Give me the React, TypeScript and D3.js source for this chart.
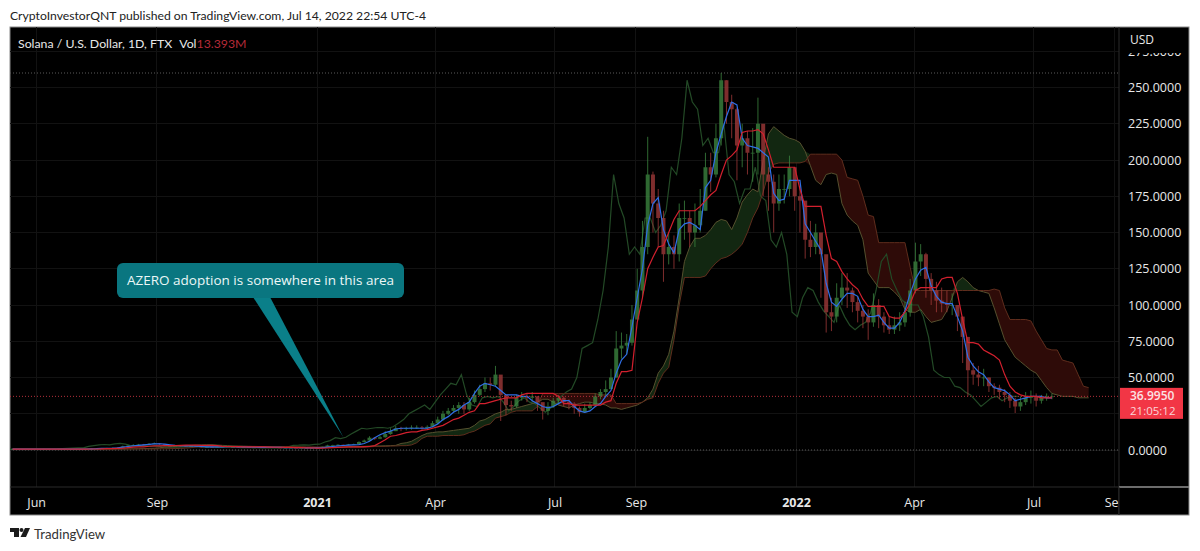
import React, { useRef, useEffect } from 'react';
import * as d3 from 'd3';

// bars are sampled every 4 days, starting here
const barStart = new Date(Date.UTC(2020, 4, 14));
const barStepDays = 4;
const chikouLagDays = 26;

const closes = [
  0.6, 0.6, 0.6, 0.6, 0.6, 0.6, 0.7, 0.7, 0.7, 0.7,
  0.6, 0.6, 0.6, 0.7, 0.7, 0.8, 1, 1.2, 1.3, 1.4,
  1.5, 2.5, 3, 3.5, 3.8, 3.6, 4.2, 4.6, 4, 3,
  2.9, 3, 2.9, 2.6, 2.7, 2.3, 2, 2.2, 2, 2.3,
  2.4, 2.2, 2.2, 2, 2, 1.8, 1.8, 1.9, 1.9, 2,
  1.7, 1.6, 1.6, 1.6, 1.5, 1.5, 1.5, 1.5, 1.6, 2.2,
  3.2, 3.3, 3.6, 3.4, 3.9, 4, 5.5, 6.5, 8.5, 7.8,
  8.8, 11, 13, 15, 14.5, 15, 15.5, 15.5, 15, 16,
  18.5, 21, 25, 27, 29, 31, 28, 33, 38, 42,
  46, 45, 52, 38, 31, 30, 36, 37, 36, 37,
  33, 27, 30, 34, 36, 33, 32, 29, 26, 29,
  31, 37, 40, 42, 50, 70, 72, 74, 90, 110,
  140, 190, 170, 160, 135, 140, 135, 160, 160, 150,
  155, 165, 195, 190, 215, 255, 240, 235, 210, 215,
  205, 205, 225, 190, 185, 170, 180, 180, 195, 175,
  172, 145, 140, 150, 135, 95, 92, 105, 112, 110,
  102, 96, 92, 88, 100, 92, 86, 83, 86, 88,
  95, 110, 130, 135, 118, 110, 103, 101, 100, 100,
  92, 78, 55, 52, 50, 50, 44, 43, 40, 38,
  34, 30, 33, 36, 37, 34, 36, 37, 37,
];

const highs = [
  0.7, 0.7, 0.7, 0.7, 0.7, 0.7, 0.8, 0.8, 0.8, 0.8,
  0.7, 0.7, 0.7, 0.8, 0.8, 1, 1.2, 1.4, 1.5, 1.6,
  1.8, 3, 3.6, 4, 4.2, 4.2, 4.8, 5.2, 4.8, 3.8,
  3.3, 3.3, 3.2, 3, 3, 2.8, 2.5, 2.5, 2.4, 2.6,
  2.7, 2.5, 2.5, 2.3, 2.3, 2.1, 2, 2.1, 2.1, 2.2,
  2, 1.8, 1.8, 1.8, 1.7, 1.7, 1.7, 1.7, 1.8, 2.5,
  3.6, 3.6, 4, 3.8, 4.2, 4.4, 6, 7.2, 9.5, 8.8,
  10, 13, 15, 16.5, 16, 16, 17, 17, 16.5, 17,
  20, 23, 27, 29, 31, 33, 33, 36, 41, 45,
  50, 50, 58, 50, 35, 34, 38, 40, 39, 40,
  37, 32, 33, 36, 38, 37, 35, 33, 30, 32,
  33, 39, 42, 48, 56, 82, 81, 80, 100, 125,
  158, 216, 192, 180, 165, 150, 148, 170, 172, 165,
  170, 180, 205, 205, 225, 260, 255, 245, 236, 225,
  220, 222, 243, 215, 195, 190, 190, 190, 203, 195,
  182, 170, 158, 156, 146, 110, 105, 115, 122, 122,
  112, 106, 100, 97, 108, 104, 95, 92, 92, 95,
  102, 118, 143, 142, 136, 122, 116, 112, 110, 108,
  100, 92, 72, 60, 58, 56, 50, 46, 45, 42,
  40, 36, 37, 40, 41, 39, 38, 39, 39,
];

const lows = [
  0.5, 0.5, 0.5, 0.5, 0.5, 0.5, 0.6, 0.6, 0.6, 0.6,
  0.5, 0.5, 0.5, 0.6, 0.6, 0.7, 0.8, 1, 1.1, 1.2,
  1.3, 1.5, 2.4, 3, 3.4, 3.2, 3.4, 4, 3.6, 2.6,
  2.5, 2.7, 2.6, 2.3, 2.4, 2, 1.8, 1.9, 1.8, 1.9,
  2.1, 2, 1.9, 1.8, 1.8, 1.6, 1.6, 1.7, 1.7, 1.7,
  1.5, 1.4, 1.4, 1.4, 1.3, 1.3, 1.3, 1.3, 1.4, 1.5,
  2.8, 2.9, 3.2, 3.1, 3.3, 3.7, 3.9, 5.2, 6.3, 7,
  7.5, 8.5, 10.5, 13, 13, 13.5, 14, 14.5, 14, 14.5,
  15.5, 18, 20, 24, 26, 25, 25, 27, 32, 37,
  40, 41, 44, 20, 24, 27, 29, 34, 33, 33,
  27, 21, 24, 29, 32, 30, 28, 25, 23, 26,
  28, 30, 35, 37, 42, 50, 63, 66, 72, 90,
  105, 135, 150, 140, 116, 128, 125, 130, 145, 140,
  140, 150, 165, 178, 188, 210, 225, 215, 186, 195,
  190, 185, 190, 175, 165, 150, 165, 170, 175, 165,
  150, 132, 133, 135, 105, 81, 82, 88, 100, 98,
  95, 88, 84, 76, 85, 84, 81, 80, 80, 82,
  85, 92, 108, 120, 105, 100, 95, 95, 95, 93,
  82, 60, 37, 45, 44, 44, 40, 38, 35, 33,
  29, 25.5, 27, 31, 32, 30, 32, 34, 35,
];

const tenkan = [
  0.6, 0.6, 0.6, 0.6, 0.6, 0.6, 0.6, 0.6, 0.6, 0.6,
  0.6, 0.6, 0.6, 0.65, 0.7, 0.8, 0.9, 1.1, 1.2, 1.3,
  1.5, 2, 2.4, 2.8, 3.2, 3.6, 3.9, 4.2, 4.3, 4,
  3.6, 3.2, 3, 2.9, 2.8, 2.6, 2.4, 2.2, 2.1, 2.1,
  2.2, 2.3, 2.3, 2.2, 2.1, 2, 1.9, 1.85, 1.85, 1.9,
  1.85, 1.8, 1.7, 1.65, 1.6, 1.55, 1.5, 1.5, 1.4, 1.6,
  2, 2.4, 2.8, 3.1, 3.3, 3.5, 3.7, 4.5, 6, 8.5,
  10.5, 12, 13, 14.5, 15, 15, 15, 15, 15, 15,
  16, 18, 21, 23, 26, 28, 31, 33, 39, 44,
  46, 45, 44, 41, 38, 38, 38, 37, 37, 34,
  32, 30, 29, 30, 32, 34, 34, 30, 27, 26,
  27, 30, 32, 37, 41, 53, 62, 66, 85, 105,
  125, 155, 170, 174, 152, 142, 136, 152, 156, 157,
  155, 152, 181, 186, 205, 218, 230, 240, 238, 215,
  210, 209, 208, 205, 202, 177, 172, 173, 186, 186,
  186, 156, 150, 144, 138, 115, 102, 99, 104, 108,
  108, 106, 97, 92, 92, 93, 88, 84, 84, 88,
  96, 108, 118, 124, 126, 113, 106, 102, 101, 101,
  92, 82, 64, 58, 54, 52, 47, 43, 42, 41,
  38, 34, 35, 36, 37, 37, 37, 36, 36,
];

const kijun = [
  0.6, 0.6, 0.6, 0.6, 0.6, 0.6, 0.6, 0.6, 0.6, 0.6,
  0.6, 0.6, 0.6, 0.6, 0.65, 0.7, 0.7, 0.8, 0.9, 1,
  1.1, 1.2, 1.6, 2, 2.1, 2.2, 2.6, 2.8, 2.8, 3,
  3, 3, 3.2, 3.4, 3.4, 3.4, 3.2, 3.2, 3.2, 3,
  2.5, 2.4, 2.3, 2.3, 2.2, 2.2, 2.2, 2.1, 2.1, 2,
  1.9, 1.9, 1.8, 1.8, 1.7, 1.6, 1.5, 1.4, 1.3, 1.3,
  1.4, 1.6, 1.8, 2, 2.1, 2.2, 2.2, 2.3, 2.4, 3,
  5, 7, 9.5, 10, 11, 12, 12.5, 12.5, 13.5, 14,
  15, 16, 17, 19, 21, 22, 24, 26, 27, 32,
  32, 33, 34, 35, 36, 36, 36, 38, 39, 39,
  39, 39, 39, 39, 37, 32, 32, 31, 31, 31,
  31, 31, 31, 33, 34, 46, 54, 54, 55, 88,
  105, 125, 133, 140, 141, 150, 159, 165, 165, 165,
  165, 168, 172, 176, 179, 190, 200, 203, 207, 219,
  220, 220, 221, 218, 207, 195, 195, 195, 195, 195,
  180, 168, 168, 168, 168, 148, 132, 130, 123, 118,
  114, 111, 104, 99, 99, 99, 99, 92, 91, 91,
  95, 101, 110, 112, 112, 112, 112, 118, 119, 119,
  108, 90, 74, 74, 73, 69, 67, 65, 62, 52,
  44, 40, 38, 37, 37, 37, 36, 36, 36,
];

// the cloud runs on past the last bar
const spanA = [
  0.6, 0.6, 0.6, 0.6, 0.6, 0.6, 0.6, 0.6, 0.6, 0.6,
  0.6, 0.6, 0.6, 0.6, 0.6, 0.65, 0.65, 0.65, 0.7, 0.7,
  0.7, 0.7, 0.8, 0.8, 0.9, 1, 1.1, 1.2, 1.5, 2,
  2.2, 2.5, 2.8, 3, 3.1, 3.3, 3.5, 3.6, 3.6, 3.4,
  3.2, 3, 2.8, 2.7, 2.6, 2.5, 2.4, 2.4, 2.3, 2.3,
  2.2, 2.2, 2.1, 2, 2, 1.9, 1.8, 1.8, 1.8, 1.8,
  1.8, 1.8, 1.8, 2, 2.2, 2.4, 2.4, 2.5, 2.7, 2.8,
  2.8, 2.9, 3, 3.2, 4.5, 5, 6, 8, 10, 11.5,
  12, 12.5, 12.5, 13, 13.5, 14, 14.5, 15, 17, 20,
  21, 23, 25, 26, 28, 28, 29, 30, 31, 32,
  33, 35, 35, 33, 31, 30, 29, 31, 32, 33,
  33, 32, 32, 31, 29, 29, 28, 29, 30, 31,
  33, 36, 42, 53, 58, 66, 82, 105, 130, 140,
  146, 146, 148, 152, 157, 159, 158, 152, 160, 171,
  176, 180, 178, 200, 218, 223, 220, 217, 215, 214,
  212, 206, 196, 186, 183, 190, 191, 190, 170, 162,
  158, 155, 145, 122, 117, 112, 112, 112, 109, 105,
  97, 95, 95, 97, 92, 88, 89, 90, 96, 105,
  116, 119, 116, 112, 110, 109, 108, 98, 87, 76,
  70, 64, 61, 58, 55, 53, 48, 43, 39, 38,
  37, 37, 37, 36, 36, 36,
];

const spanB = [
  0.6, 0.6, 0.6, 0.6, 0.6, 0.6, 0.6, 0.6, 0.6, 0.6,
  0.6, 0.6, 0.6, 0.6, 0.6, 0.6, 0.6, 0.6, 0.6, 0.6,
  0.6, 0.6, 0.7, 0.7, 0.7, 0.7, 0.7, 0.7, 0.8, 0.8,
  0.9, 1, 1.1, 1.3, 1.6, 2.2, 2.4, 2.4, 2.5, 2.5,
  2.5, 2.5, 2.5, 2.5, 2.5, 2.5, 2.5, 2.4, 2.4, 2.4,
  2.4, 2.3, 2.3, 2.3, 2.3, 2.2, 2.1, 2.1, 2, 2,
  2, 2, 2, 2, 2, 2, 2, 1.9, 2.2, 2.4,
  2.4, 2.5, 2.7, 2.8, 3, 3, 3.5, 5, 8, 9.5,
  9.5, 9.5, 10, 10, 10, 10, 10.5, 12, 13, 15,
  17, 18, 22, 23, 24, 26, 27, 27, 27, 27,
  30, 39, 39, 39, 39, 39, 39, 39, 39, 39,
  39, 39, 38, 38, 38, 32, 32, 32, 32, 32,
  33, 35, 36, 46, 53, 57, 76, 100, 119, 119,
  119, 119, 120, 125, 129, 132, 133, 135, 138, 142,
  150, 160, 167, 178, 191, 197, 198, 198, 198, 198,
  198, 199, 204, 204, 204, 204, 204, 204, 200, 188,
  187, 186, 175, 162, 161, 143, 143, 143, 143, 143,
  143, 126, 110, 110, 110, 110, 110, 110, 110, 110,
  110, 110, 110, 110, 110, 110, 110, 111, 110, 98,
  90, 90, 90, 90, 89, 82, 76, 70, 69, 69,
  62, 61, 60, 52, 44, 43,
];

const gridPrices = [0, 25, 50, 75, 100, 125, 150, 175, 200, 225, 250, 275];
// 25 sits behind the last price tag, so it gets no label
const labelledPrices = [0, 50, 75, 100, 125, 150, 175, 200, 225, 250, 275];
const timeTicks = [
  { date: new Date(Date.UTC(2020, 5, 1)), label: 'Jun' },
  { date: new Date(Date.UTC(2020, 8, 1)), label: 'Sep' },
  { date: new Date(Date.UTC(2021, 0, 1)), label: '2021' },
  { date: new Date(Date.UTC(2021, 3, 1)), label: 'Apr' },
  { date: new Date(Date.UTC(2021, 6, 1)), label: 'Jul' },
  { date: new Date(Date.UTC(2021, 8, 1)), label: 'Sep' },
  { date: new Date(Date.UTC(2022, 0, 1)), label: '2022' },
  { date: new Date(Date.UTC(2022, 3, 1)), label: 'Apr' },
  { date: new Date(Date.UTC(2022, 6, 1)), label: 'Jul' },
  { date: new Date(Date.UTC(2022, 8, 1)), label: 'Sep' },
];
const lastPrice = 36.995;
const lastPriceLabel = '36.9950';
const countdownLabel = '21:05:12';
const rangeHigh = 260;
const calloutTipDate = new Date(Date.UTC(2021, 0, 21));
const calloutTipPrice = 9;

const FONT = '"Open Sans", sans-serif';
const HEAD_FONT = 'Lato, sans-serif';
const width = 1200;
const height = 551;
const plot = { left: 10, right: 1119, top: 27, bottom: 487 };
const frame = { right: 1189, bottom: 515 };

const barDate = (i: number) => d3.utcDay.offset(barStart, i * barStepDays);

const App: React.FC = () => {
  const ref = useRef<SVGSVGElement | null>(null);

  useEffect(() => {
    if (!ref.current) return;
    const svg = d3.select(ref.current);
    svg.selectAll('*').remove();

    const x = d3.scaleTime()
      .domain([new Date(Date.UTC(2021, 0, 1)), new Date(Date.UTC(2022, 0, 1))])
      .range([317, 796]);
    const y = d3.scaleLinear().domain([0, 250]).range([450, 87.5]);

    svg.append('rect').attr('width', width).attr('height', height).attr('fill', '#fff');
    svg.append('rect')
      .attr('x', plot.left).attr('y', plot.top)
      .attr('width', frame.right - plot.left).attr('height', frame.bottom - plot.top)
      .attr('fill', '#000').attr('stroke', '#8a8a8a');

    svg.append('defs').append('clipPath').attr('id', 'plot-clip').append('rect')
      .attr('x', plot.left).attr('y', plot.top)
      .attr('width', plot.right - plot.left).attr('height', plot.bottom - plot.top);

    // grid
    const grid = svg.append('g').attr('stroke', '#121212').attr('shape-rendering', 'crispEdges');
    grid.selectAll('line.h').data(gridPrices).join('line').attr('class', 'h')
      .attr('x1', plot.left).attr('x2', plot.right)
      .attr('y1', d => y(d)).attr('y2', d => y(d));
    grid.selectAll('line.v').data(timeTicks).join('line').attr('class', 'v')
      .attr('x1', d => x(d.date)).attr('x2', d => x(d.date))
      .attr('y1', plot.top).attr('y2', plot.bottom);

    svg.append('line')
      .attr('x1', plot.left).attr('x2', frame.right)
      .attr('y1', plot.bottom).attr('y2', plot.bottom)
      .attr('stroke', '#2a2a2a');
    svg.append('line')
      .attr('x1', plot.right).attr('x2', plot.right)
      .attr('y1', plot.top).attr('y2', frame.bottom)
      .attr('stroke', '#2a2a2a');
    svg.append('line')
      .attr('x1', plot.right).attr('x2', frame.right)
      .attr('y1', plot.bottom).attr('y2', plot.bottom)
      .attr('stroke', '#8a8a8a').attr('stroke-width', 1.5);

    const chart = svg.append('g').attr('clip-path', 'url(#plot-clip)');

    // dotted guide lines
    chart.selectAll('line.guide').data([rangeHigh, 0]).join('line').attr('class', 'guide')
      .attr('x1', plot.left).attr('x2', plot.right)
      .attr('y1', d => y(d)).attr('y2', d => y(d))
      .attr('stroke', '#5a5a5a').attr('stroke-dasharray', '1 2');

    // cloud
    const spanIdx = d3.range(spanA.length);
    const bullArea = d3.area<number>()
      .x(i => x(barDate(i)))
      .y0(i => y(spanB[i]))
      .y1(i => y(Math.max(spanA[i], spanB[i])));
    const bearArea = d3.area<number>()
      .x(i => x(barDate(i)))
      .y0(i => y(spanB[i]))
      .y1(i => y(Math.min(spanA[i], spanB[i])));
    chart.append('path').attr('d', bullArea(spanIdx)).attr('fill', '#122711');
    chart.append('path').attr('d', bearArea(spanIdx)).attr('fill', '#2e0b08');

    const lineOf = (values: number[], lag = 0) => d3.line<number>()
      .x((_, i) => x(d3.utcDay.offset(barDate(i), -lag)))
      .y(d => y(d))(values);

    chart.append('path').attr('d', lineOf(closes, chikouLagDays))
      .attr('fill', 'none').attr('stroke', '#234a26').attr('stroke-width', 1.2);
    chart.append('path').attr('d', lineOf(spanA))
      .attr('fill', 'none').attr('stroke', '#55502e').attr('stroke-width', 1);
    chart.append('path').attr('d', lineOf(spanB))
      .attr('fill', 'none').attr('stroke', '#5f2d1d').attr('stroke-width', 1);

    // candles
    const candles = closes.map((c, i) => ({
      i,
      open: i === 0 ? c : closes[i - 1],
      close: c,
      high: highs[i],
      low: lows[i],
    }));
    const colorOf = (d: { open: number; close: number }) => (d.close >= d.open ? '#3f8c43' : '#a83c3c');
    const candle = chart.append('g').attr('opacity', 0.75)
      .selectAll('g').data(candles).join('g');
    candle.append('line')
      .attr('x1', d => x(barDate(d.i))).attr('x2', d => x(barDate(d.i)))
      .attr('y1', d => y(d.high)).attr('y2', d => y(d.low))
      .attr('stroke', colorOf).attr('stroke-width', 1);
    candle.append('rect')
      .attr('x', d => x(barDate(d.i)) - 2).attr('width', 4)
      .attr('y', d => y(Math.max(d.open, d.close)))
      .attr('height', d => Math.max(0.8, Math.abs(y(d.open) - y(d.close))))
      .attr('fill', colorOf);

    chart.append('path').attr('d', lineOf(tenkan))
      .attr('fill', 'none').attr('stroke', '#2f6fe6').attr('stroke-width', 1.2);
    chart.append('path').attr('d', lineOf(kijun))
      .attr('fill', 'none').attr('stroke', '#d3202e').attr('stroke-width', 1.2);

    chart.append('line')
      .attr('x1', plot.left).attr('x2', plot.right)
      .attr('y1', y(lastPrice)).attr('y2', y(lastPrice))
      .attr('stroke', '#b5303a').attr('stroke-dasharray', '1 2');

    // callout
    const tipX = x(calloutTipDate);
    const tipY = y(calloutTipPrice);
    svg.append('path')
      .attr('d', `M253,297 L270,297 L${tipX},${tipY} Z`)
      .attr('fill', '#0a7f89');
    svg.append('rect')
      .attr('x', 117).attr('y', 263).attr('width', 287).attr('height', 35).attr('rx', 6)
      .attr('fill', '#0a7680');
    svg.append('text')
      .attr('x', 260.5).attr('y', 285).attr('text-anchor', 'middle')
      .attr('font-family', FONT).attr('font-size', 13.5).attr('fill', '#ecf7f7')
      .text('AZERO adoption is somewhere in this area');

    // price axis
    const priceAxis = svg.append('g')
      .attr('transform', `translate(${plot.right},0)`)
      .call(d3.axisRight(y).tickValues(labelledPrices).tickFormat(d => (+d).toFixed(4)).tickSize(0).tickPadding(9));
    priceAxis.select('.domain').remove();
    priceAxis.selectAll('text')
      .attr('font-family', FONT).attr('font-size', 12.5).attr('fill', '#e8e8e8');

    // the unit label sits over the top tick
    svg.append('rect')
      .attr('x', plot.right + 1).attr('y', plot.top + 1)
      .attr('width', frame.right - plot.right - 2).attr('height', 25)
      .attr('fill', '#000');
    svg.append('text')
      .attr('x', 1130).attr('y', 44)
      .attr('font-family', FONT).attr('font-size', 12).attr('fill', '#e8e8e8')
      .text('USD');

    // time axis
    const timeAxis = svg.append('g')
      .attr('transform', `translate(0,${plot.bottom})`)
      .call(d3.axisBottom(x)
        .tickValues(timeTicks.map(d => d.date))
        .tickFormat((_, i) => timeTicks[i].label)
        .tickSize(0).tickPadding(11));
    timeAxis.select('.domain').remove();
    timeAxis.selectAll('text')
      .attr('font-family', FONT).attr('font-size', 12.5).attr('fill', '#e8e8e8')
      .attr('font-weight', (_, i) => (timeTicks[i].label.length === 4 ? 700 : 400));
    // "Sep" at the right edge is cut by the price scale
    svg.append('rect')
      .attr('x', plot.right).attr('y', plot.bottom + 1)
      .attr('width', frame.right - plot.right - 1).attr('height', frame.bottom - plot.bottom - 2)
      .attr('fill', '#000');
    svg.append('line')
      .attr('x1', plot.right).attr('x2', plot.right)
      .attr('y1', plot.bottom).attr('y2', frame.bottom)
      .attr('stroke', '#2a2a2a');

    // last price tag
    svg.append('rect')
      .attr('x', plot.right + 1).attr('y', y(lastPrice) - 8.5)
      .attr('width', 63).attr('height', 31)
      .attr('fill', '#f23645');
    svg.append('text')
      .attr('x', 1130).attr('y', y(lastPrice) + 3.5)
      .attr('font-family', FONT).attr('font-size', 12).attr('font-weight', 600).attr('fill', '#fbe4e6')
      .text(lastPriceLabel);
    svg.append('text')
      .attr('x', 1130).attr('y', y(lastPrice) + 19)
      .attr('font-family', FONT).attr('font-size', 11.5).attr('fill', '#fbd5d8')
      .text(countdownLabel);

    // header
    svg.append('text')
      .attr('x', 10).attr('y', 19.5)
      .attr('font-family', HEAD_FONT).attr('font-size', 12.2).attr('fill', '#222')
      .text('CryptoInvestorQNT published on TradingView.com, Jul 14, 2022 22:54 UTC-4');
    const legend = svg.append('text')
      .attr('x', 18).attr('y', 48)
      .attr('font-family', HEAD_FONT).attr('font-size', 12.3).attr('fill', '#e8e8e8');
    legend.append('tspan').text('Solana / U.S. Dollar, 1D, FTX');
    legend.append('tspan').attr('dx', 7).text('Vol');
    legend.append('tspan').attr('fill', '#b52a38').text('13.393M');

    // footer logo
    const logo = svg.append('g').attr('fill', '#1b1b1b');
    logo.append('path').attr('d', 'M10,528 H19 V537 H14 V532 H10 Z');
    logo.append('circle').attr('cx', 21.5).attr('cy', 530).attr('r', 2);
    logo.append('path').attr('d', 'M25,528 H30 L26,537 H20.5 Z');
    svg.append('text')
      .attr('x', 34).attr('y', 538.5)
      .attr('font-family', HEAD_FONT).attr('font-size', 13.2).attr('fill', '#333')
      .text('TradingView');
  }, []);

  return <svg ref={ref} width={width} height={height} style={{ position: 'absolute', left: 0, top: 0 }} />;
};

export default App;
